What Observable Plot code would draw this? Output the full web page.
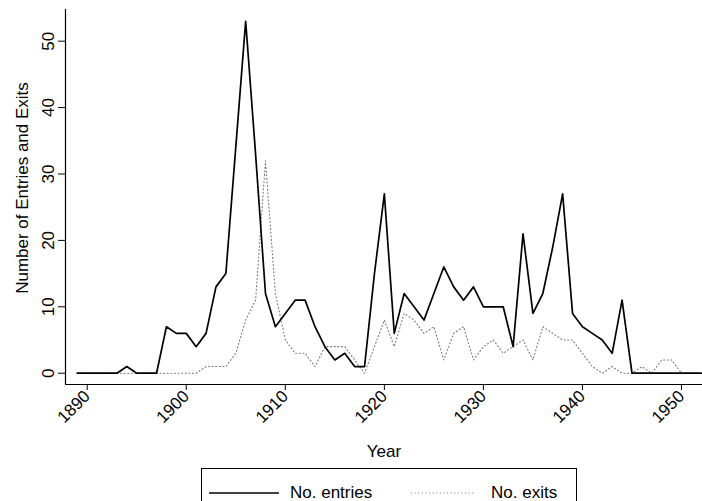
<!DOCTYPE html>
<html>
<head>
<meta charset="utf-8">
<script src="https://cdn.jsdelivr.net/npm/d3@7"></script>
<script src="https://cdn.jsdelivr.net/npm/@observablehq/plot@0.6"></script>
<style>
  body { margin: 0; background: #fff; font-family: "Liberation Sans", Arial, Helvetica, sans-serif; }
  #wrap { position: relative; width: 702px; height: 501px; overflow: hidden; background: #fff; }
  #legend { position: absolute; left: 201px; top: 468px; width: 376px; height: 50px; box-sizing: border-box;
            border: 1px solid #000; font-size: 17px; color: #000; }
  #legend .item { position: absolute; top: 14px; display: flex; align-items: center; white-space: nowrap; line-height: 20px; }
  #legend svg { display: block; }
</style>
</head>
<body>
<div id="wrap">
  <div id="chart"></div>
  <div id="legend"></div>
</div>
<script>
const years = [1889,1890,1891,1892,1893,1894,1895,1896,1897,1898,1899,
  1900,1901,1902,1903,1904,1905,1906,1907,1908,1909,
  1910,1911,1912,1913,1914,1915,1916,1917,1918,1919,
  1920,1921,1922,1923,1924,1925,1926,1927,1928,1929,
  1930,1931,1932,1933,1934,1935,1936,1937,1938,1939,
  1940,1941,1942,1943,1944,1945,1946,1947,1948,1949,
  1950,1951,1952];
const entries = [0,0,0,0,0,1,0,0,0,7,6,
  6,4,6,13,15,34,53,33,12,7,
  9,11,11,7,4,2,3,1,1,15,
  27,6,12,10,8,12,16,13,11,13,
  10,10,10,4,21,9,12,19,27,9,
  7,6,5,3,11,0,0,0,0,0,
  0,0,0];
const exits = [0,0,0,0,0,0,0,0,0,0,0,
  0,0,1,1,1,3,8,11,32,12,
  5,3,3,1,4,4,4,2,0,4,
  8,4,9,8,6,7,2,6,7,2,
  4,5,3,4,5,2,7,6,5,5,
  3,1,0,1,0,0,1,0,2,2,
  0,0,0];
const xTicks = [1890,1900,1910,1920,1930,1940,1950];
const yTicks = [0,10,20,30,40,50];
const seriesNames = ["No. entries","No. exits"];
const xTitle = "Year";
const yTitle = "Number of Entries and Exits";

const entriesData = years.map((y,i) => ({year: y, value: entries[i]}));
const exitsData = years.map((y,i) => ({year: y, value: exits[i]}));

const xDomain = [1887.81, 1952.12];
const yDomain = [-1.70, 54.77];
const dotted = {stroke: "#777", strokeWidth: 1.1, strokeDasharray: "1 2.6"};
const solid = {stroke: "#000", strokeWidth: 1.7};

const chart = Plot.plot({
  width: 702, height: 468,
  marginLeft: 65, marginRight: 0, marginTop: 9, marginBottom: 84,
  style: {fontFamily: '"Liberation Sans", Arial, Helvetica, sans-serif', fontSize: "17px", color: "#000", background: "#fff", overflow: "visible"},
  x: {domain: xDomain},
  y: {domain: yDomain},
  marks: [
    Plot.ruleY([yDomain[0]], {stroke: "#000", strokeWidth: 1.2}),
    Plot.ruleX([xDomain[0]], {stroke: "#000", strokeWidth: 1.2}),
    Plot.axisX(xTicks, {tickRotate: -45, tickSize: 6, tickPadding: 3, label: null, fontSize: 17, tickFormat: d => String(d)}),
    Plot.axisY(yTicks, {tickRotate: -90, tickSize: 7, tickPadding: 5, label: null, fontSize: 17, tickFormat: d => String(d)}),
    Plot.line(exitsData, {x: "year", y: "value", ...dotted}),
    Plot.line(entriesData, {x: "year", y: "value", ...solid}),
    Plot.text([xTitle], {frameAnchor: "bottom", text: d => d, textAnchor: "middle", lineAnchor: "middle", dy: 67, fontSize: 17}),
    Plot.text([yTitle], {frameAnchor: "left", text: d => d, textAnchor: "middle", lineAnchor: "middle", rotate: -90, dx: -43, dy: -9, fontSize: 17})
  ]
});
document.getElementById("chart").appendChild(chart);

// Legend
const legend = document.getElementById("legend");
const styles = [solid, dotted];
const positions = [7, 209];
seriesNames.forEach((name, i) => {
  const item = document.createElement("div");
  item.className = "item";
  item.style.left = positions[i] + "px";
  const st = styles[i];
  const dash = st.strokeDasharray ? ` stroke-dasharray="${st.strokeDasharray}"` : "";
  const w = i === 0 ? 70 : 64;
  item.innerHTML = `<svg width="${w}" height="20"><line x1="0" x2="${w}" y1="10" y2="10" stroke="${st.stroke}" stroke-width="${st.strokeWidth}"${dash}/></svg><span style="margin-left:${i===0?11:16}px">${name}</span>`;
  legend.appendChild(item);
});
</script>
</body>
</html>
